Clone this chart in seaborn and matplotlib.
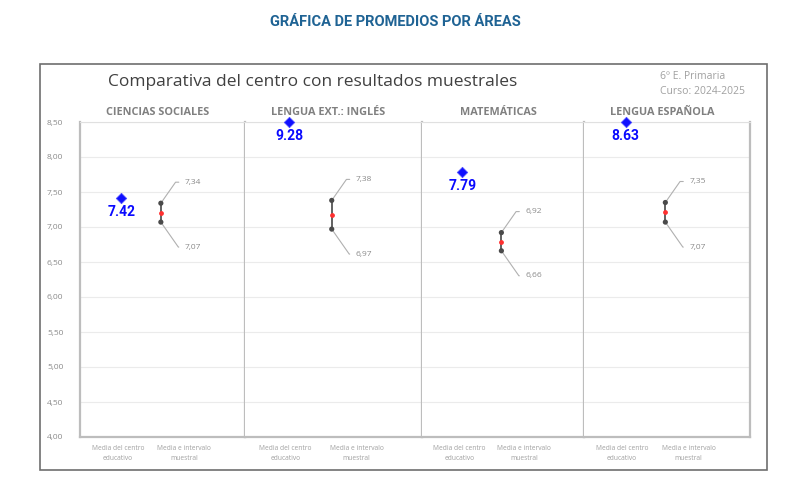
import numpy as np
import pandas as pd
import matplotlib
matplotlib.use("Agg")
import matplotlib.pyplot as plt
import seaborn as sns
from matplotlib.patches import Rectangle

# Datos
areas = ["CIENCIAS SOCIALES", "LENGUA EXT.: INGLÉS", "MATEMÁTICAS", "LENGUA ESPAÑOLA"]
media_centro = [7.42, 9.28, 7.79, 8.63]
intervalo_inf = [7.07, 6.97, 6.66, 7.07]
intervalo_sup = [7.34, 7.38, 6.92, 7.35]
etiquetas_x = ["Media del centro\neducativo", "Media e intervalo\nmuestral"]
y_ticks = [4.0, 4.5, 5.0, 5.5, 6.0, 6.5, 7.0, 7.5, 8.0, 8.5]

y_min, y_max = 4.0, 8.5

sns.set_style("white")
plt.rcParams['font.family'] = ['Open Sans', 'DejaVu Sans']

fig = plt.figure(figsize=(7.9, 4.88), dpi=100)

# Marco exterior del gráfico
fig.patches.append(Rectangle((40 / 790, 1 - 470 / 488), 727 / 790, 406 / 488,
                             transform=fig.transFigure, fill=False,
                             edgecolor='#6e6e6e', linewidth=1.2))

fig.text(0.5, 1 - 22 / 488, "GRÁFICA DE PROMEDIOS POR ÁREAS", ha='center', va='center',
         fontsize=10.5, fontweight='bold', color='#1f6394', family=['Roboto', 'DejaVu Sans'])
fig.text(108 / 790, 1 - 82 / 488, "Comparativa del centro con resultados muestrales",
         ha='left', va='center', fontsize=12.5, color='#404040')
fig.text(660 / 790, 1 - 76 / 488, "6º E. Primaria", ha='left', va='center',
         fontsize=7.5, color='#a0a0a0')
fig.text(660 / 790, 1 - 92 / 488, "Curso: 2024-2025", ha='left', va='center',
         fontsize=7.5, color='#a0a0a0')

gs = fig.add_gridspec(1, 4, left=80 / 790, right=750 / 790, bottom=1 - 437 / 488,
                      top=1 - 122 / 488, wspace=0, width_ratios=[165, 177, 162, 166])

x_centro = 0.25
x_muestra = 0.49

for i, area in enumerate(areas):
    ax = fig.add_subplot(gs[0, i])
    ax.set_xlim(0, 1)
    ax.set_ylim(y_min, y_max)
    ax.set_yticks(y_ticks)
    ax.set_xticks([])
    ax.grid(axis='y', color='#ebebeb', linewidth=0.8)
    ax.set_axisbelow(True)
    for side, sp in ax.spines.items():
        sp.set_color('#bdbdbd')
        sp.set_linewidth(1.6)
    ax.spines['top'].set_color('#e0e0e0')
    ax.spines['top'].set_linewidth(0.8)
    if i == 0:
        ax.set_yticklabels([f"{v:.2f}".replace('.', ',') for v in y_ticks])
        ax.tick_params(axis='y', labelsize=6, colors='#8a8a8a', length=0, pad=12)
    else:
        ax.tick_params(axis='y', labelleft=False, length=0)
        ax.spines['left'].set_visible(False)

    ax.set_title(area, fontsize=7.8, fontweight='bold', color='#808080', pad=5, x=0.47)

    # Media del centro
    valor = media_centro[i]
    y_plot = min(valor, y_max)
    df_c = pd.DataFrame({'x': [x_centro], 'y': [y_plot]})
    sns.scatterplot(data=df_c, x='x', y='y', ax=ax, marker='D', s=28, color='#1010ff',
                    edgecolor='#5050ff', linewidth=0.6, clip_on=False, zorder=5)
    ax.annotate(f"{valor:.2f}", xy=(x_centro, y_plot), xytext=(0, -14),
                textcoords='offset pixels', ha='center', va='center', fontsize=10,
                fontweight='bold', color='#0a0aff', family=['Roboto', 'DejaVu Sans'])

    # Intervalo muestral
    lo, hi = intervalo_inf[i], intervalo_sup[i]
    media = (lo + hi) / 2
    ax.vlines(x_muestra, lo, hi, color='#555555', linewidth=1.3, zorder=3)
    df_i = pd.DataFrame({'x': [x_muestra, x_muestra], 'y': [lo, hi]})
    sns.scatterplot(data=df_i, x='x', y='y', ax=ax, marker='o', s=14, color='#4a4a4a',
                    edgecolor='none', zorder=4)
    ax.scatter([x_muestra], [media], marker='o', s=6, color='#ff3030', zorder=5)

    ax.annotate(f"{hi:.2f}".replace('.', ','), xy=(x_muestra, hi), xytext=(24, 21),
                textcoords='offset pixels', ha='left', va='center', fontsize=6,
                color='#8a8a8a',
                arrowprops=dict(arrowstyle='-', color='#b0b0b0', linewidth=0.8,
                                shrinkA=2, shrinkB=1,
                                connectionstyle='angle,angleA=0,angleB=55'))
    ax.annotate(f"{lo:.2f}".replace('.', ','), xy=(x_muestra, lo), xytext=(24, -25),
                textcoords='offset pixels', ha='left', va='center', fontsize=6,
                color='#8a8a8a',
                arrowprops=dict(arrowstyle='-', color='#b0b0b0', linewidth=0.8,
                                shrinkA=2, shrinkB=1,
                                connectionstyle='angle,angleA=0,angleB=-55'))

    for xl, txt in zip([0.23, 0.63], etiquetas_x):
        ax.text(xl, -0.025, txt, transform=ax.transAxes, ha='center', va='top',
                fontsize=4.8, color='#a0a0a0', linespacing=1.6)

    ax.set_xlabel('')
    ax.set_ylabel('')

fig.savefig("out.png", dpi=100)
